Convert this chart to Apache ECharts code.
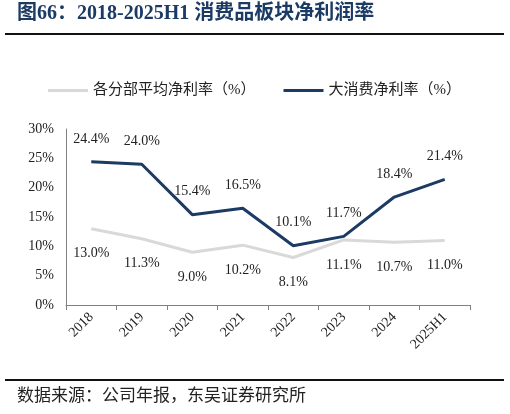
<!DOCTYPE html>
<html>
<head>
<meta charset="utf-8">
<script src="https://cdn.jsdelivr.net/npm/echarts@6/dist/echarts.min.js"></script>
<style>
  html, body { margin: 0; padding: 0; background: #fff; }
  #chart { width: 510px; height: 414px; }
</style>
</head>
<body>
<div id="chart"></div>
<script>
  var categories = ['2018', '2019', '2020', '2021', '2022', '2023', '2024', '2025H1'];
  var avgMargin = [13.0, 11.3, 9.0, 10.2, 8.1, 11.1, 10.7, 11.0];
  var consumerMargin = [24.4, 24.0, 15.4, 16.5, 10.1, 11.7, 18.4, 21.4];
  var seriesNames = ['各分部平均净利率（%）', '大消费净利率（%）'];

  var FONT = '"Liberation Serif", "Noto Sans CJK SC", serif';
  var NAVY = '#1b3a64';

  function pct(p) {
    return p.value.toFixed(1) + '%';
  }

  var chart = echarts.init(document.getElementById('chart'));
  chart.setOption({
    backgroundColor: '#fff',
    animation: false,
    textStyle: { fontFamily: FONT },
    graphic: [
      { type: 'text', left: 17, top: 4,
        style: { text: '图66：2018-2025H1 消费品板块净利润率', font: 'bold 20px ' + FONT, fill: NAVY } },
      { type: 'rect', shape: { x: 5, y: 33, width: 499, height: 2 }, style: { fill: '#111' } },
      { type: 'rect', shape: { x: 5, y: 379, width: 499, height: 2 }, style: { fill: '#111' } },
      { type: 'text', left: 17, top: 388,
        style: { text: '数据来源：公司年报，东吴证券研究所', font: '17px ' + FONT, fill: '#222' } }
    ],
    legend: {
      top: 78,
      left: 43,
      itemWidth: 40,
      itemHeight: 3,
      itemGap: 28,
      icon: 'rect',
      textStyle: { fontSize: 15, color: '#222', fontFamily: FONT },
      data: seriesNames
    },
    grid: { left: 66, right: 40, top: 129, bottom: 109, containLabel: false },
    xAxis: {
      type: 'category',
      data: categories,
      axisLine: { lineStyle: { color: '#808080', width: 1 } },
      axisTick: { show: true, alignWithLabel: false, length: 5, lineStyle: { color: '#808080' } },
      axisLabel: { rotate: 45, fontSize: 14, color: '#222', margin: 10, interval: 0 }
    },
    yAxis: {
      type: 'value',
      min: 0,
      max: 30,
      interval: 5,
      splitLine: { show: false },
      axisLine: { show: true, lineStyle: { color: '#808080', width: 1 } },
      axisTick: { show: false },
      axisLabel: { fontSize: 14, color: '#222', margin: 12, formatter: '{value}%' }
    },
    series: [
      {
        name: seriesNames[0],
        type: 'line',
        data: avgMargin,
        symbol: 'circle',
        symbolSize: 0,
        showSymbol: true,
        lineStyle: { color: '#d9d9d9', width: 3 },
        itemStyle: { color: '#d9d9d9' },
        label: { show: true, position: 'bottom', distance: 18, fontSize: 14, color: '#222', formatter: pct }
      },
      {
        name: seriesNames[1],
        type: 'line',
        data: consumerMargin,
        symbol: 'circle',
        symbolSize: 0,
        showSymbol: true,
        lineStyle: { color: NAVY, width: 3 },
        itemStyle: { color: NAVY },
        label: { show: true, position: 'top', distance: 16, fontSize: 14, color: '#222', formatter: pct }
      }
    ]
  });
</script>
</body>
</html>
